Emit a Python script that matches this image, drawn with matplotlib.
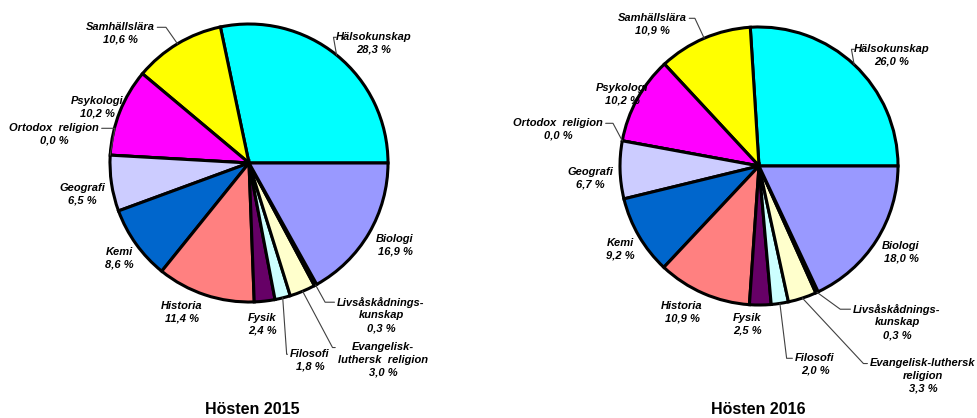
import numpy as np
import matplotlib

matplotlib.use("Agg")
import matplotlib.pyplot as plt

subjects = [
    "Hälsokunskap", "Samhällslära", "Psykologi", "Ortodox religion", "Geografi",
    "Kemi", "Historia", "Fysik", "Filosofi", "Evangelisk-luthersk religion",
    "Livsåskådningskunskap", "Biologi",
]
values_2015 = [28.3, 10.6, 10.2, 0.0, 6.5, 8.6, 11.4, 2.4, 1.8, 3.0, 0.3, 16.9]
values_2016 = [26.0, 10.9, 10.2, 0.0, 6.7, 9.2, 10.9, 2.5, 2.0, 3.3, 0.3, 18.0]
colors = [
    "#00FFFF", "#FFFF00", "#FF00FF", "#000080", "#CCCCFF", "#0066CC",
    "#FF8080", "#660066", "#CCFFFF", "#FFFFCC", "#993366", "#9999FF",
]

# label text as it is broken into lines in each chart
names_2015 = [
    "Hälsokunskap", "Samhällslära", "Psykologi", "Ortodox  religion", "Geografi",
    "Kemi", "Historia", "Fysik", "Filosofi", "Evangelisk-\nluthersk  religion",
    "Livsåskådnings-\nkunskap", "Biologi",
]
names_2016 = [
    "Hälsokunskap", "Samhällslära", "Psykologi", "Ortodox  religion", "Geografi",
    "Kemi", "Historia", "Fysik", "Filosofi", "Evangelisk-luthersk\nreligion",
    "Livsåskådnings-\nkunskap", "Biologi",
]

W, H = 978, 418
RADIUS = 139

# label layout in pixels from top-left:
# (x, y, leader start on text bbox or None, leader angle leaving the pie)
layout_2015 = [
    (374, 43, (0, 0.75), 100), (120, 33, (1, 0.75), 125), (97, 107, None, 0),
    (54, 134, (1, 0.75), 80), (82, 194, None, 0), (119, 258, None, 0),
    (182, 312, None, 0), (262, 324, None, 0), (310, 360, (0, 0.75), 274),
    (383, 360, (0, 0.85), 298), (381, 315, (0, 0.85), 299), (395, 245, None, 0),
]
layout_2016 = [
    (892, 55, (0, 0.75), 100), (652, 24, (1, 0.75), 115), (622, 94, None, 0),
    (558, 129, (1, 0.75), 118), (590, 178, None, 0), (620, 249, None, 0),
    (682, 312, None, 0), (747, 324, None, 0), (815, 364, (0, 0.75), 277),
    (923, 376, (0, 0.85), 313), (897, 322, (0, 0.85), 324), (901, 252, None, 0),
]

LABEL_FONT = dict(family=["Liberation Sans", "DejaVu Sans"], fontsize=8,
                  fontweight="bold", fontstyle="italic")


def fmt(v):
    return f"{v:.1f}".replace(".", ",") + " %"


def draw_pie(ax, values, names, layout, center_px, title, title_px):
    cx, cy = center_px[0], H - center_px[1]
    wedges, _ = ax.pie(
        values, colors=colors, startangle=0, counterclock=True,
        center=(cx, cy), radius=RADIUS, normalize=True,
        wedgeprops=dict(edgecolor="black", linewidth=2.2),
    )
    for w, name, v, (lx, ly, rel, ang_b) in zip(wedges, names, values, layout):
        text = f"{name}\n{fmt(v)}"
        if rel is None:
            ax.text(lx, H - ly, text, ha="center", va="center",
                    multialignment="center", linespacing=1.35, zorder=5, **LABEL_FONT)
        else:
            ang = np.deg2rad((w.theta1 + w.theta2) / 2)
            edge = (cx + RADIUS * np.cos(ang), cy + RADIUS * np.sin(ang))
            ax.annotate(
                text, xy=edge, xytext=(lx, H - ly), ha="center", va="center",
                multialignment="center", linespacing=1.35, zorder=5,
                arrowprops=dict(arrowstyle="-", color="#404040", lw=0.8,
                                relpos=rel, shrinkA=0, shrinkB=0,
                                connectionstyle=f"angle,angleA=0,angleB={ang_b},rad=0"),
                **LABEL_FONT,
            )
    ax.text(title_px[0], H - title_px[1], title, ha="center", va="center",
            family=["Liberation Sans", "DejaVu Sans"], fontsize=11.5, fontweight="bold")


fig = plt.figure(figsize=(W / 100, H / 100), dpi=100)
ax = fig.add_axes([0, 0, 1, 1])

draw_pie(ax, values_2015, names_2015, layout_2015, (249, 163), "Hösten 2015", (252, 409))
draw_pie(ax, values_2016, names_2016, layout_2016, (759, 166), "Hösten 2016", (758, 409))

ax.set_xlim(0, W)
ax.set_ylim(0, H)
ax.set_aspect("equal")
ax.axis("off")

fig.savefig("out.png", dpi=100)
plt.close(fig)
